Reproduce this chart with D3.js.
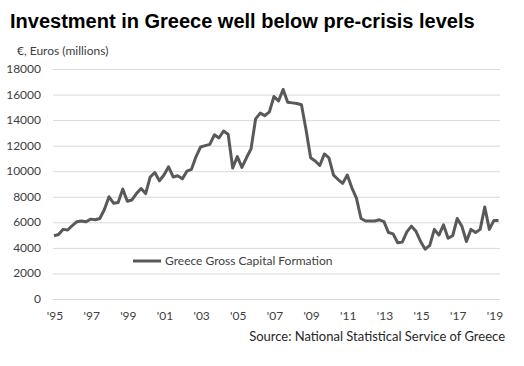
<!DOCTYPE html>
<html>
<head>
<meta charset="utf-8">
<script src="https://cdn.jsdelivr.net/npm/d3@7"></script>
<style>
  body { margin: 0; background: #fff; }
  svg { display: block; }
</style>
</head>
<body>
<div id="chart"></div>
<script>
// quarterly gross capital formation, 1995 Q1 .. 2019 Q2 (millions of euros)
const startYear = 1995
const gcf = [
  4950, 5050, 5450, 5400, 5750, 6050, 6100, 6050, 6250, 6200,
  6300, 7000, 8000, 7500, 7550, 8600, 7650, 7750, 8250, 8650,
  8250, 9550, 9900, 9250, 9700, 10350, 9550, 9650, 9400, 10000,
  10150, 11150, 11900, 12000, 12100, 12850, 12600, 13150, 12900, 10250,
  11150, 10300, 11050, 11750, 14100, 14550, 14350, 14650, 15850, 15500,
  16400, 15400, 15350, 15300, 15200, 13250, 11050, 10800, 10450, 11350,
  11050, 9700, 9350, 9050, 9700, 8700, 7900, 6300, 6100, 6100,
  6100, 6200, 6050, 5200, 5100, 4400, 4450, 5250, 5700, 5300,
  4500, 3900, 4200, 5450, 5000, 5800, 4750, 4950, 6300, 5700,
  4500, 5450, 5200, 5450, 7200, 5450, 6150, 6150
]
const yTicks = [0, 2000, 4000, 6000, 8000, 10000, 12000, 14000, 16000, 18000]
const xTickYears = [1995, 1997, 1999, 2001, 2003, 2005, 2007, 2009, 2011, 2013, 2015, 2017, 2019]
const seriesName = "Greece Gross Capital Formation"

let width = 524
let height = 366

let svg = d3.select("#chart").append("svg")
    .attr("width", width)
    .attr("height", height)

let x = d3.scaleLinear()
    .domain([0, gcf.length - 1])
    .range([54, 498.5])

let y = d3.scaleLinear()
    .domain([0, 18000])
    .range([299, 69])

// title + unit label
svg.append("text")
    .attr("x", 10)
    .attr("y", 28)
    .text("Investment in Greece well below pre-crisis levels")
    .style("font-family", "Liberation Sans, Arial, sans-serif")
    .style("font-weight", "bold")
    .style("font-size", "20px")
    .style("fill", "#000")

svg.append("text")
    .attr("x", 17)
    .attr("y", 55)
    .text("€, Euros (millions)")
    .style("font-family", "Lato, sans-serif")
    .style("font-size", "12px")
    .style("fill", "#404040")

// gridlines
svg.append("g")
    .selectAll("line")
    .data(yTicks)
    .enter()
    .append("line")
    .attr("x1", 53)
    .attr("x2", 500)
    .attr("y1", d => y(d) + 0.5)
    .attr("y2", d => y(d) + 0.5)
    .style("stroke", "#d9d9d9")
    .style("stroke-width", 1)

// y labels
svg.append("g")
    .selectAll("text")
    .data(yTicks)
    .enter()
    .append("text")
    .attr("x", 41)
    .attr("y", d => y(d) + 4)
    .attr("text-anchor", "end")
    .text(d => d)
    .style("font-family", "Lato, sans-serif")
    .style("font-size", "12px")
    .style("fill", "#404040")

// x labels
svg.append("g")
    .selectAll("text")
    .data(xTickYears)
    .enter()
    .append("text")
    .attr("x", d => x((d - startYear) * 4) + 1)
    .attr("y", 320)
    .attr("text-anchor", "middle")
    .text(d => "'" + String(d).slice(2))
    .style("font-family", "Lato, sans-serif")
    .style("font-size", "12px")
    .style("fill", "#404040")

// the series
let line = d3.line()
    .x((d, i) => x(i))
    .y(d => y(d))

svg.append("path")
    .datum(gcf)
    .attr("d", line)
    .style("fill", "none")
    .style("stroke", "#595959")
    .style("stroke-width", 3)
    .style("stroke-linejoin", "round")

// legend
svg.append("line")
    .attr("x1", 133)
    .attr("x2", 161)
    .attr("y1", 261)
    .attr("y2", 261)
    .style("stroke", "#595959")
    .style("stroke-width", 3)

svg.append("text")
    .attr("x", 165)
    .attr("y", 265)
    .text(seriesName)
    .style("font-family", "Lato, sans-serif")
    .style("font-size", "12px")
    .style("fill", "#404040")

// source
svg.append("text")
    .attr("x", 505)
    .attr("y", 341)
    .attr("text-anchor", "end")
    .text("Source: National Statistical Service of Greece")
    .style("font-family", "Lato, sans-serif")
    .style("font-size", "13px")
    .style("fill", "#262626")
</script>
</body>
</html>
